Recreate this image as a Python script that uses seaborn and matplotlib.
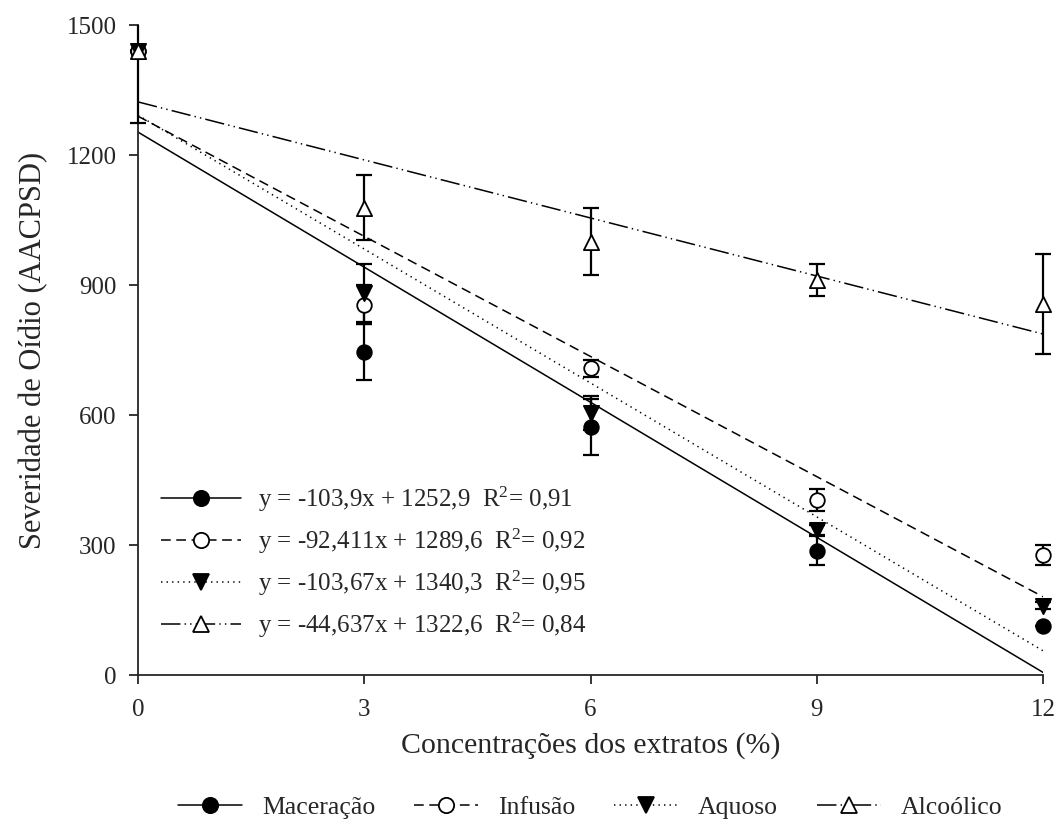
import numpy as np
import pandas as pd
import seaborn as sns
import matplotlib.pyplot as plt
from matplotlib.lines import Line2D
from matplotlib.patches import Rectangle

# data
conc = [0, 3, 6, 9, 12]
series_names = ["Maceração", "Infusão", "Aquoso", "Alcoólico"]
maceracao = [1440, 745, 573, 287, 112]
maceracao_err = [165, 65, 65, 33, 0]
infusao = [1440, 854, 708, 404, 277]
infusao_err = [0, 45, 20, 25, 23]
aquoso = [1440, 881, 605, 335, 160]
aquoso_err = [0, 67, 40, 12, 8]
alcoolico = [1440, 1078, 1000, 912, 856]
alcoolico_err = [0, 75, 77, 37, 115]

# fitted lines (intercept, slope) as drawn
intercepts = [1252.9, 1289.6, 1292.0, 1322.6]
slopes = [-103.9, -92.411, -103.0, -44.637]
equations = ["y = -103,9x + 1252,9  R$^2$= 0,91",
             "y = -92,411x + 1289,6  R$^2$= 0,92",
             "y = -103,67x + 1340,3  R$^2$= 0,95",
             "y = -44,637x + 1322,6  R$^2$= 0,84"]

sns.set_style("ticks")
plt.rcParams['font.family'] = ['Liberation Serif', 'DejaVu Serif']
plt.rcParams['mathtext.fontset'] = 'custom'
plt.rcParams['mathtext.rm'] = 'Liberation Serif'
plt.rcParams['mathtext.default'] = 'regular'
plt.rcParams['lines.scale_dashes'] = False

values = [maceracao, infusao, aquoso, alcoolico]
errors = [maceracao_err, infusao_err, aquoso_err, alcoolico_err]
markers = ["o", "o", "v", "^"]
faces = ["black", "white", "black", "white"]
sizes = [110, 110, 120, 120]
styles = ["-", (0, (7, 4)), (0, (1, 3)), (0, (14, 3, 1, 3, 1, 3))]

fig = plt.figure(figsize=(10.56, 8.21), dpi=100)
ax = fig.add_axes([0.1307, 0.1778, 0.857, 0.7917])

clip = Rectangle((-0.05, 0), 1.1, 1, transform=ax.transAxes, visible=False)
ax.add_patch(clip)

x_line = np.array([conc[0], conc[-1]])
for i in range(4):
    y_line = intercepts[i] + slopes[i] * x_line
    sns.lineplot(x=x_line, y=y_line, ax=ax, color="black", lw=1.1,
                 linestyle=styles[i], zorder=2)

for i in range(4):
    eb = ax.errorbar(conc, values[i], yerr=errors[i], fmt="none", ecolor="black",
                     elinewidth=1.6, capsize=6, capthick=1.6, zorder=3)
    for art in eb.lines[1] + eb.lines[2]:
        art.set_clip_path(clip)
    sns.scatterplot(x=conc, y=values[i], ax=ax, marker=markers[i], s=sizes[i],
                    color=faces[i], edgecolor="black", linewidth=1.3,
                    zorder=4, clip_on=False)

ax.set_xlim(0, 12)
ax.set_ylim(0, 1500)
ax.set_xticks(conc)
ax.set_yticks([0, 300, 600, 900, 1200, 1500])
ax.tick_params(labelsize=18, length=6.5, width=1.3, direction="out")
ax.tick_params(axis="y", pad=9)
ax.tick_params(axis="x", pad=11)
for s in ["left", "bottom"]:
    ax.spines[s].set_linewidth(1.3)
sns.despine(ax=ax)
ax.set_xlabel("Concentrações dos extratos (%)", fontsize=21.5, labelpad=8)
ax.set_ylabel("Severidade de Oídio (AACPSD)", fontsize=22, labelpad=13)

handles = []
for i in range(4):
    handles.append(Line2D([0], [0], color="black", lw=1.1, linestyle=styles[i],
                          marker=markers[i], markersize=11,
                          markerfacecolor=faces[i], markeredgecolor="black",
                          markeredgewidth=1.3))

ax.legend(handles, equations, loc="lower left", bbox_to_anchor=(0.0, 0.02),
          frameon=False, fontsize=18, handlelength=3.2, labelspacing=0.5,
          handletextpad=0.7)

fig.legend(handles, series_names, loc="lower center", bbox_to_anchor=(0.5587, -0.026),
           ncol=4, frameon=False, fontsize=18.5, handlelength=2.5,
           columnspacing=1.5, handletextpad=0.78)

fig.savefig("out.png", dpi=100)
